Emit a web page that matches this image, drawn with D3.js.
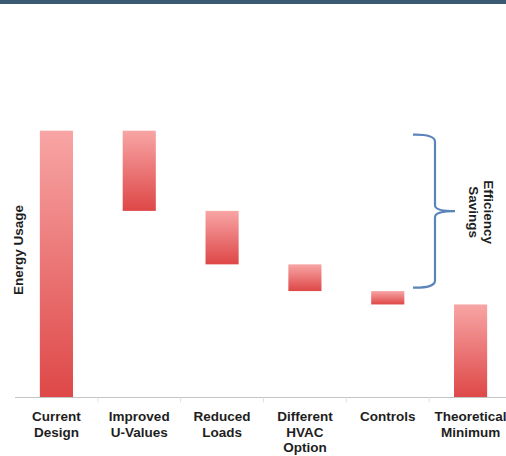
<!DOCTYPE html>
<html>
<head>
<meta charset="utf-8">
<script src="https://cdn.jsdelivr.net/npm/d3@7"></script>
<style>
  html, body { margin: 0; padding: 0; background: #ffffff; }
  svg { display: block; }
  text { font-family: "Liberation Sans", Arial, sans-serif; font-weight: bold; fill: #1e1e1e; }
</style>
</head>
<body>
<svg id="chart" width="506" height="456"></svg>
<script>
// Energy usage waterfall: current design, stepwise savings, theoretical minimum
const categories = ["Current\nDesign", "Improved\nU-Values", "Reduced\nLoads", "Different\nHVAC\nOption", "Controls", "Theoretical\nMinimum"];
const values = [100, 30, 20, 10, 5, 35];
const kinds = ["total", "step", "step", "step", "step", "total"];
const yLabel = "Energy Usage";
const braceLabel = ["Efficiency", "Savings"];

const W = 506, H = 456;
const svg = d3.select("#chart");

// Header strip
svg.append("rect").attr("x", 0).attr("y", 0).attr("width", W).attr("height", 4).attr("fill", "#3b5a71");

// Waterfall spans: totals start at zero, steps fall from the running level
let level = 0;
const bars = categories.map((c, i) => {
  let lo, hi;
  if (kinds[i] === "total") { lo = 0; hi = values[i]; level = values[i]; }
  else { hi = level; lo = level - values[i]; level = lo; }
  return { cat: c, lo, hi };
});

const x = d3.scaleBand().domain(categories).range([15, 512]).paddingInner(0.6).paddingOuter(0.3);
const y = d3.scaleLinear().domain([0, 100]).range([398, 130.7]);

// Vertical gradient shared by every bar
const defs = svg.append("defs");
const grad = defs.append("linearGradient").attr("id", "barGrad")
  .attr("x1", 0).attr("y1", 0).attr("x2", 0).attr("y2", 1);
grad.append("stop").attr("offset", "0%").attr("stop-color", "#f8a5a5");
grad.append("stop").attr("offset", "100%").attr("stop-color", "#de4747");

svg.append("g").selectAll("rect").data(bars).join("rect")
  .attr("x", d => x(d.cat))
  .attr("width", x.bandwidth())
  .attr("y", d => y(d.hi))
  .attr("height", d => y(d.lo) - y(d.hi))
  .attr("fill", "url(#barGrad)");

// Category axis
const axisY = 397.5;
svg.append("line").attr("x1", 15).attr("x2", W).attr("y1", axisY).attr("y2", axisY)
  .attr("stroke", "#c4c4c4").attr("stroke-width", 1.2);
const step = x.step();
const boundaries = categories.slice(1).map(c => x(c) - step * x.paddingInner() / 2);
svg.append("g").selectAll("line").data(boundaries).join("line")
  .attr("x1", d => d).attr("x2", d => d)
  .attr("y1", axisY).attr("y2", axisY + 5)
  .attr("stroke", "#e2e2e2");

const fs = 13.5;
const labels = svg.append("g").selectAll("text").data(categories).join("text")
  .attr("x", d => x(d) + x.bandwidth() / 2)
  .attr("y", 421)
  .attr("text-anchor", "middle")
  .attr("font-size", fs);
labels.each(function (d) {
  const t = d3.select(this);
  d.split("\n").forEach((line, i) => {
    t.append("tspan").attr("x", x(d) + x.bandwidth() / 2).attr("dy", i === 0 ? 0 : 15.5).text(line);
  });
});

// Y axis title
svg.append("text")
  .attr("transform", "translate(22.5,250) rotate(-90)")
  .attr("text-anchor", "middle")
  .attr("font-size", fs)
  .text(yLabel);

// Brace over the savings steps
const bTop = y(100) + 4, bBot = y(40) - 3.5, bMid = (bTop + bBot) / 2;
const bx0 = 413, bx1 = 435, bTip = 455;
const brace = d3.path();
brace.moveTo(bx0, bTop);
brace.quadraticCurveTo(bx1, bTop - 0.5, bx1, bTop + 7);
brace.lineTo(bx1, bMid - 6);
brace.quadraticCurveTo(bx1, bMid, bTip, bMid);
brace.moveTo(bTip, bMid);
brace.quadraticCurveTo(bx1, bMid, bx1, bMid + 6);
brace.lineTo(bx1, bBot - 7);
brace.quadraticCurveTo(bx1, bBot + 0.5, bx0, bBot);
svg.append("path").attr("d", brace.toString())
  .attr("fill", "none").attr("stroke", "#5b84ba").attr("stroke-width", 2.2);

const bl = svg.append("text")
  .attr("transform", `translate(484,${bMid + 1}) rotate(90)`)
  .attr("text-anchor", "middle")
  .attr("font-size", fs);
braceLabel.forEach((line, i) => {
  bl.append("tspan").attr("x", 0).attr("dy", i === 0 ? 0 : 15).text(line);
});
</script>
</body>
</html>
